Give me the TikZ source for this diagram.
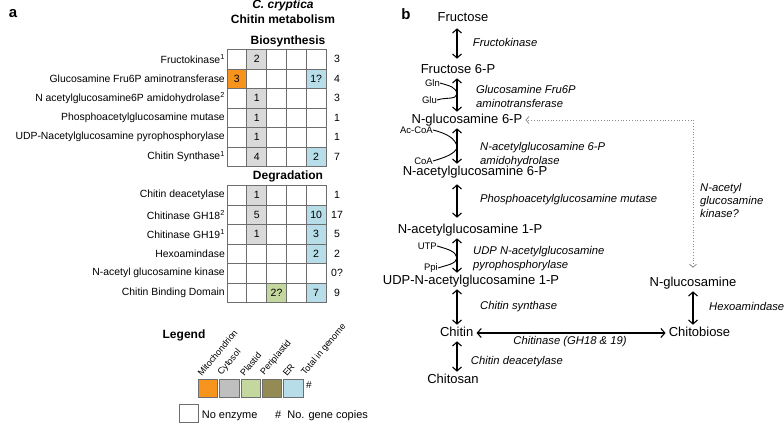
\documentclass[tikz,border=0pt]{standalone}
\usepackage{fontspec}
\setmainfont{Liberation Sans}
\usetikzlibrary{arrows.meta,positioning}
\definecolor{mitoorange}{RGB}{247,148,30}
\definecolor{cytogray}{RGB}{217,217,217}
\definecolor{cytolegend}{RGB}{191,191,191}
\definecolor{plastidgreen}{RGB}{196,215,158}
\definecolor{periolive}{RGB}{148,138,84}
\definecolor{erblue}{RGB}{183,222,232}
\definecolor{gridgray}{RGB}{110,110,110}
\definecolor{guessgray}{RGB}{140,140,140}
\tikzset{
  panellabel/.style={font=\fontsize{15}{17}\selectfont\bfseries, inner sep=0pt},
  headline/.style={font=\fontsize{12}{14}\selectfont\bfseries, inner sep=0pt},
  rowlabel/.style={anchor=east, font=\fontsize{10.4}{12}\selectfont, inner sep=0pt},
  cellbox/.style={rectangle, draw=gridgray, line width=0.7pt, fill=white,
    minimum width=19.8pt, minimum height=19.5pt, inner sep=0pt,
    font=\fontsize{10.5}{12}\selectfont},
  totalnum/.style={font=\fontsize{10.5}{12}\selectfont, inner sep=0pt},
  legbox/.style={rectangle, draw=gridgray, line width=0.7pt,
    minimum width=19.5pt, minimum height=18.5pt, inner sep=0pt},
  legtext/.style={font=\fontsize{9}{10}\selectfont, anchor=south west,
    rotate=50, inner sep=0pt},
  keytext/.style={font=\fontsize{11}{13}\selectfont, anchor=west, inner sep=0pt},
  metab/.style={font=\fontsize{13}{15}\selectfont, text height=9.5pt,
    text depth=2.7pt, inner xsep=3pt, inner ysep=2pt},
  enzyme/.style={font=\fontsize{11.25}{14}\selectfont\itshape, anchor=west,
    align=left, inner sep=0pt},
  cosub/.style={font=\fontsize{9.5}{11}\selectfont, anchor=east, inner sep=0pt},
  rxn/.style={{Straight Barb[length=4pt,width=9pt]}-{Straight Barb[length=4pt,width=9pt]},
    line width=1.1pt},
  cosubflow/.style={line width=0.9pt},
  guessflow/.style={{Straight Barb[length=3pt,width=7pt]}-{Straight Barb[length=3pt,width=7pt]},
    dotted, draw=guessgray, line width=0.8pt}
}
\begin{document}
\begin{tikzpicture}[x=1pt, y=-1pt]
  \useasboundingbox (0,0) rectangle (784,423);

  % ================= panel a =================
  \node[panellabel] (pa) at (13,14) {a};
  \node[headline] (species) at (283,5) {\itshape C. cryptica};
  \node[headline] (ttl) at (283,19) {Chitin metabolism};

  % --- biosynthesis table ---
  \node[headline] (bioh) at (288,41) {Biosynthesis};
  \foreach \lbl/\tot [count=\r] in {Fructokinase\textsuperscript{1}/3,
      Glucosamine Fru6P aminotransferase/4,
      N acetylglucosamine6P amidohydrolase\textsuperscript{2}/3,
      Phosphoacetylglucosamine mutase/1,
      UDP-Nacetylglucosamine pyrophosphorylase/1,
      Chitin Synthase\textsuperscript{1}/7}{
    \node[rowlabel] (bio-lbl-\r) at (225, 39.75+19.5*\r) {\lbl};
    \node[totalnum] (bio-tot-\r) at (337, 39.75+19.5*\r) {\tot};
    \foreach \c in {1,...,5}
      \node[cellbox] (bio-\r-\c) at (217.1+19.8*\c, 39.75+19.5*\r) {};
  }
  \foreach \r/\c/\col/\num in {1/2/cytogray/2, 2/1/mitoorange/3, 2/5/erblue/1?,
      3/2/cytogray/1, 4/2/cytogray/1, 5/2/cytogray/1, 6/2/cytogray/4, 6/5/erblue/2}
    \node[cellbox, fill=\col] (bio-fill-\r-\c) at (bio-\r-\c) {\num};

  % --- degradation table ---
  \node[headline] (degh) at (288,176.7) {Degradation};
  \foreach \lbl/\tot [count=\r] in {Chitin deacetylase/1,
      Chitinase GH18\textsuperscript{2}/17,
      Chitinase GH19\textsuperscript{1}/5,
      Hexoamindase/2,
      N-acetyl glucosamine kinase/0?,
      Chitin Binding Domain/9}{
    \node[rowlabel] (deg-lbl-\r) at (225, 175.75+19.5*\r) {\lbl};
    \node[totalnum] (deg-tot-\r) at (337, 175.75+19.5*\r) {\tot};
    \foreach \c in {1,...,5}
      \node[cellbox] (deg-\r-\c) at (217.1+19.8*\c, 175.75+19.5*\r) {};
  }
  \foreach \r/\c/\col/\num in {1/2/cytogray/1, 2/2/cytogray/5, 2/5/erblue/10,
      3/2/cytogray/1, 3/5/erblue/3, 4/5/erblue/2, 6/3/plastidgreen/2?, 6/5/erblue/7}
    \node[cellbox, fill=\col] (deg-fill-\r-\c) at (deg-\r-\c) {\num};

  % --- legend ---
  \node[headline] (legh) at (184,335) {Legend};
  \foreach \col/\name [count=\i] in {mitoorange/Mitochondrion, cytolegend/Cytosol,
      plastidgreen/Plastid, periolive/Periplastid, erblue/ER}{
    \node[legbox, fill=\col] (leg-\i) at (186.7+21.3*\i, 388.5) {};
    \node[legtext] (leg-txt-\i) at ([xshift=4pt, yshift=2pt]leg-\i.north west) {\name};
  }
  \node[keytext, font=\fontsize{10}{12}\selectfont] (legnum) at (306,385) {\#};
  \node[legtext] (legtot) at (306.7,377) {Total in genome};
  \node[legbox, fill=white, minimum width=19pt, minimum height=18.7pt] (noenzbox)
       at (188.8,413.3) {};
  \node[keytext, right=3pt of noenzbox, yshift=-2.5pt] (noenz) {No enzyme};
  \node[keytext] (copies) at (275,416) {\#\ \ No. gene copies};

  % ================= panel b =================
  \node[panellabel] (pb) at (406,14) {b};

  % --- metabolites ---
  \node[metab] (fru)    at (463,18)    {Fructose};
  \node[metab] (fru6p)  at (458,70)    {Fructose 6-P};
  \node[metab] (glcn6p) at (467,120)   {N-glucosamine 6-P};
  \node[metab] (nag6p)  at (475,172)   {N-acetylglucosamine 6-P};
  \node[metab] (nag1p)  at (470,230)   {N-acetylglucosamine 1-P};
  \node[metab] (udpnag) at (471,281)   {UDP-N-acetylglucosamine 1-P};
  \node[metab] (chitin) at (456.7,333) {Chitin};
  \node[metab] (chitos) at (453,380)   {Chitosan};
  \node[metab] (glcn)   at (693,283)   {N-glucosamine};
  \node[metab] (chitob) at (699.5,333) {Chitobiose};

  \coordinate (axis) at (457,0);
  \coordinate (axisr) at (693,0);

  % --- co-substrates ---
  \node[cosub] (gln)  at (440,83)  {Gln};
  \node[cosub] (glu)  at (437,100) {Glu};
  \node[cosub] (acoa) at (433,130) {Ac-CoA};
  \node[cosub] (coa)  at (433,161) {CoA};
  \node[cosub] (utp)  at (437,246) {UTP};
  \node[cosub] (ppi)  at (438,268) {Ppi};
  \coordinate (glnpt)  at (457,94);
  \coordinate (acoapt) at (457,147);
  \coordinate (utppt)  at (457,258);

  % --- enzymes ---
  \node[enzyme] (fk)   at (472.7,42.3) {Fructokinase};
  \node[enzyme] (gfat) at (476,96)     {Glucosamine Fru6P\\aminotransferase};
  \node[enzyme] (amdh) at (480,155)    {N-acetylglucosamine 6-P\\amidohydrolase};
  \node[enzyme] (pagm) at (480,200)    {Phosphoacetylglucosamine mutase};
  \node[enzyme] (uap)  at (473,258.4)  {UDP N-acetylglucosamine\\pyrophosphorylase};
  \node[enzyme] (chs)  at (480,306.7)  {Chitin synthase};
  \node[enzyme] (cda)  at (470.7,361.7) {Chitin deacetylase};
  \node[enzyme] (hex)  at (709,306.7)  {Hexoamindase};
  \node[enzyme, font=\fontsize{11.25}{13}\selectfont\itshape] (nagk) at (700,200.3)
       {N-acetyl\\glucosamine\\kinase?};
  \node[enzyme, anchor=center] (chi) at (570,341.7) {Chitinase (GH18 \& 19)};

  % ---------------- edges ----------------
  \draw[rxn, shorten <=2pt, shorten >=3pt] (fru.south -| axis) -- (fru6p.north -| axis);
  \draw[rxn] (fru6p.south -| axis) -- (glcn6p.north -| axis);
  \draw[rxn] (glcn6p.south -| axis) -- (nag6p.north -| axis);
  \draw[rxn, shorten <=4pt, shorten >=4pt] (nag6p.south -| axis) -- (nag1p.north -| axis);
  \draw[rxn] (nag1p.south -| axis) -- (udpnag.north -| axis);
  \draw[rxn] (udpnag.south -| axis) -- (chitin.north -| axis);
  \draw[rxn] (chitin.south -| axis) -- (chitos.north -| axis);
  \draw[rxn] (glcn.south -| axisr) -- (chitob.north -| axisr);
  \draw[rxn] (chitin.east) -- (chitob.west);

  % co-substrate hooks
  \draw[cosubflow] (gln.east) .. controls +(10,3) and +(-1,-7) .. (glnpt)
        .. controls +(-1,6) and +(9,-3) .. (glu.east);
  \draw[cosubflow] (acoa.east) .. controls +(12,3) and +(-1,-9) .. (acoapt)
        .. controls +(-1,7) and +(10,-3) .. (coa.east);
  \draw[cosubflow] (utp.east) .. controls +(10,3) and +(-1,-7) .. (utppt)
        .. controls +(-1,6) and +(9,-3) .. (ppi.east);

  % putative kinase route
  \draw[guessflow, shorten <=7pt] (glcn.north -| axisr) |- (glcn6p.east);

\end{tikzpicture}
\end{document}
